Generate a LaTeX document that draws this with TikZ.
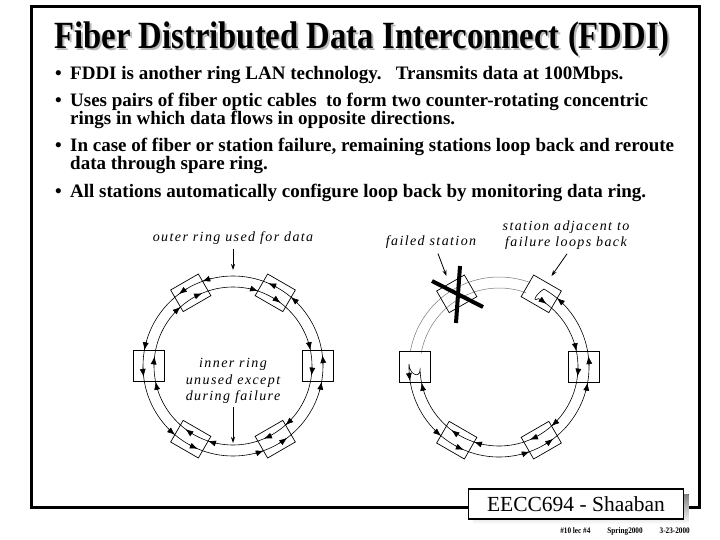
\documentclass[tikz,border=0pt]{standalone}
\usepackage{fontspec}
\setmainfont{Liberation Serif}
\newfontfamily\condfont[FakeStretch=0.85]{Liberation Serif}
\newfontfamily\notefont[LetterSpace=10]{Liberation Serif}
\usetikzlibrary{arrows.meta}
\definecolor{shade}{RGB}{150,150,150}
\definecolor{titleshade}{RGB}{185,185,185}
\definecolor{lightline}{RGB}{120,120,120}

\tikzset{
  station/.style={draw, line width=0.7pt, minimum width=32pt, minimum height=25pt, inner sep=0pt},
  sqstation/.style={draw, line width=0.7pt, minimum width=31pt, minimum height=31pt, inner sep=0pt},
  ring/.style={line width=0.6pt},
  flow/.style={-{Latex[length=8pt,width=6pt]}, line width=0.6pt},
  pointer/.style={-{Stealth[length=6pt,width=4pt]}, shade, line width=0.8pt},
  note/.style={font=\notefont\itshape\fontsize{14}{16.5}\selectfont, align=center, inner sep=0pt},
  bulletline/.style={anchor=base west, inner sep=0pt, font=\bfseries\fontsize{19}{22}\selectfont}
}
\newcommand{\shadowed}[1]{\makebox[0pt][l]{\hspace{2pt}\raisebox{-2pt}{\textcolor{titleshade}{#1}}}#1}
\def\rO{90}
\def\rI{79}

\begin{document}
\begin{tikzpicture}[x=1pt, y=-1pt]
\useasboundingbox[fill=white] (0,0) rectangle (720,540);

% Frame and title
\draw[line width=3pt] (31,7) rectangle (699,507);
\node[font=\condfont\bfseries\fontsize{38.5}{42}\selectfont] (title) at (362,40) {\shadowed{Fiber Distributed Data Interconnect (FDDI)}};

% Bullets
\node[bulletline] (b1) at (55,80) {\textbullet};
\node[bulletline] (b2) at (55,107) {\textbullet};
\node[bulletline] (b3) at (55,152) {\textbullet};
\node[bulletline] (b4) at (55,198) {\textbullet};
\node[bulletline] (l1) at (70,80) {FDDI is another ring LAN technology.\ \ \ Transmits data at 100Mbps.};
\node[bulletline] (l2) at (70,107) {Uses pairs of fiber optic cables\ \ to form two counter-rotating concentric};
\node[bulletline] (l3) at (70,125) {rings in which data flows in opposite directions.};
\node[bulletline] (l4) at (70,152) {In case of fiber or station failure, remaining stations loop back and reroute};
\node[bulletline] (l5) at (70,170) {data through spare ring.};
\node[bulletline] (l6) at (70,198) {All stations automatically configure loop back by monitoring data ring.};

% Left ring: normal operation
\begin{scope}[shift={(233,366)}, yscale=-1]
\draw[ring] (0,0) circle (\rO);
\draw[ring] (0,0) circle (\rI);
\node[sqstation] (Le) at (0:84.5) {};
\node[station, rotate=-30] (Lne) at (60:84.5) {};
\node[station, rotate=30] (Lnw) at (120:84.5) {};
\node[sqstation] (Lw) at (180:84.5) {};
\node[station, rotate=150] (Lsw) at (240:84.5) {};
\node[station, rotate=210] (Lse) at (300:84.5) {};
\foreach \a in {0,60,...,300}{
  \draw[flow] (\a-16:\rO) arc (\a-16:\a-10:\rO);
  \draw[flow] (\a+1:\rO) arc (\a+1:\a+7:\rO);
  \draw[flow] (\a+17.5:\rI) arc (\a+17.5:\a+11.5:\rI);
  \draw[flow] (\a-1:\rI) arc (\a-1:\a-7:\rI);
}
\coordinate (Ltop) at (90:\rO+6);
\coordinate (Lbot) at (270:\rI-2);
\end{scope}
\node[note] (Lnote1) at (233,238) {outer ring used for data};
\node[note] (Lnote2) at (233,381) {inner ring\\unused except\\during failure};
\draw[pointer] (Lnote1.south) ++(0,4) -- (Ltop);
\draw[pointer] (Lnote2.south) ++(0,3) -- (Lbot);

% Right ring: failed station, neighbours loop back
\begin{scope}[shift={(499,367)}, yscale=-1]
\draw[ring, lightline, line width=0.5pt] (70:\rO) arc (70:170:\rO);
\draw[ring, lightline, line width=0.5pt] (70:\rI) arc (70:170:\rI);
\draw[ring] (60:\rO) arc (60:-182:\rO) to[out=92, in=92, looseness=2] (182:\rI)
  arc (182:420:\rI) to[out=150, in=150, looseness=2] cycle;
\node[sqstation] (Re) at (0:84.5) {};
\node[station, rotate=-30] (Rne) at (60:84.5) {};
\node[station, rotate=30] (Rnw) at (120:84.5) {};
\node[sqstation] (Rw) at (180:84.5) {};
\node[station, rotate=150] (Rsw) at (240:84.5) {};
\node[station, rotate=210] (Rse) at (300:84.5) {};
\foreach \a in {0,240,300}{
  \draw[flow] (\a-16:\rO) arc (\a-16:\a-10:\rO);
  \draw[flow] (\a+1:\rO) arc (\a+1:\a+7:\rO);
  \draw[flow] (\a+17.5:\rI) arc (\a+17.5:\a+11.5:\rI);
  \draw[flow] (\a-1:\rI) arc (\a-1:\a-7:\rI);
}
\draw[flow] (44:\rO) arc (44:50:\rO);
\draw[flow] (59:\rI) arc (59:53:\rI);
\draw[flow] (183:\rO) arc (183:189:\rO);
\draw[flow] (197.5:\rI) arc (197.5:191.5:\rI);
% failed station crossed out
\draw[line width=4pt] (-67,86) -- (-16,60);
\draw[line width=4pt] (-39,101) -- (-43,44);
\coordinate (Rfail) at (120:105);
\coordinate (Rloop) at (60:105);
\end{scope}
\node[note] (Rnote1) at (431,242) {failed station};
\node[note] (Rnote2) at (566,235) {station adjacent to\\failure loops back};
\draw[pointer] (Rnote1.south) ++(7,5) -- (Rfail);
\draw[pointer] (Rnote2.south) ++(1,4) -- (Rloop);

% Signature box
\fill[shade] (473.5,494) rectangle (688.5,524);
\node[draw, fill=white, line width=1.5pt, minimum width=215pt, minimum height=30pt,
  font=\fontsize{21.5}{24}\selectfont] (sig) at (576,504) {EECC694 - Shaaban};
\node[anchor=base east, inner sep=0pt, font=\condfont\bfseries\fontsize{8.5}{9}\selectfont] (footer) at (690,533)
  {\#10 lec \#4\quad\quad Spring2000\quad\quad 3-23-2000};
\end{tikzpicture}
\end{document}
